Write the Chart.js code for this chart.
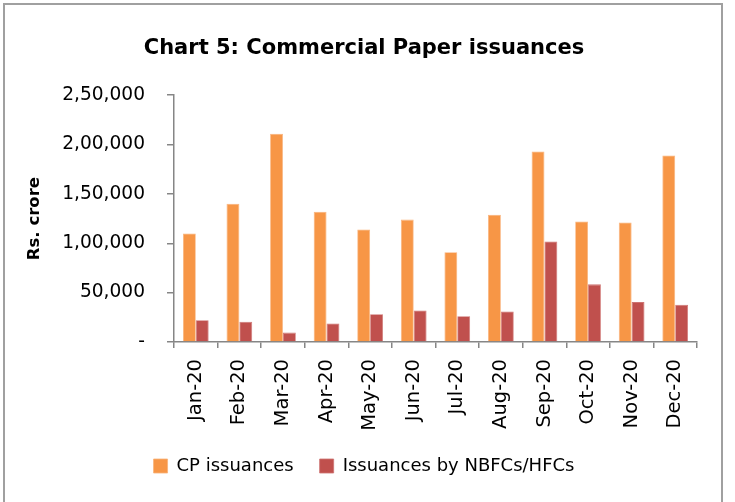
<!DOCTYPE html>
<html>
<head>
<meta charset="utf-8">
<script src="https://cdn.jsdelivr.net/npm/chart.js@4"></script>
<style>
  html, body { margin: 0; padding: 0; background: #fff; }
  #wrap { position: relative; width: 735px; height: 502px; overflow: hidden; }
  #frame { position: absolute; left: 3px; top: 3px; width: 720px; height: 520px; border: 2px solid #a0a0a0; box-sizing: border-box; pointer-events: none; }
  canvas { position: absolute; left: 0; top: 0; }
</style>
</head>
<body>
<div id="wrap">
  <canvas id="c" width="735" height="502"></canvas>
  <div id="frame"></div>
</div>
<script>
const categories = ['Jan-20','Feb-20','Mar-20','Apr-20','May-20','Jun-20','Jul-20','Aug-20','Sep-20','Oct-20','Nov-20','Dec-20'];
const cpIssuances = [110000, 140000, 211000, 132000, 114000, 124000, 91000, 129000, 193000, 122000, 121000, 189000];
const nbfcIssuances = [22000, 20500, 9500, 18700, 28200, 31900, 26100, 30900, 101900, 58400, 40400, 37700];
const yTickValues = [0, 50000, 100000, 150000, 200000, 250000];
const yTickLabels = ['-', '50,000', '1,00,000', '1,50,000', '2,00,000', '2,50,000'];

const FONT = 'DejaVu Sans';
const axisColor = '#868686';

new Chart(document.getElementById('c'), {
  type: 'bar',
  data: {
    labels: categories,
    datasets: [
      { label: 'CP issuances', data: cpIssuances, backgroundColor: '#F79646', borderColor: '#F9B27A', borderWidth: 0.8,
        categoryPercentage: 0.59, barPercentage: 1 },
      { label: 'Issuances by NBFCs/HFCs', data: nbfcIssuances, backgroundColor: '#C0504D', borderColor: '#CE7472', borderWidth: 0.8,
        categoryPercentage: 0.59, barPercentage: 1 }
    ]
  },
  options: {
    responsive: false,
    animation: false,
    layout: { padding: { left: 31, right: 38, top: 0, bottom: 17 } },
    plugins: {
      title: {
        display: true,
        text: 'Chart 5: Commercial Paper issuances',
        color: '#000',
        font: { family: FONT, size: 21, weight: 'bold', lineHeight: 1.2 },
        padding: { top: 36, bottom: 34 }
      },
      legend: {
        position: 'bottom',
        labels: {
          color: '#000',
          font: { family: FONT, size: 18 },
          boxWidth: 14, boxHeight: 14,
          padding: 26
        }
      },
      tooltip: { enabled: false }
    },
    scales: {
      x: {
        grid: { display: true, drawOnChartArea: false, drawTicks: true, tickLength: 6, color: axisColor, lineWidth: 1.5, offset: true },
        border: { display: true, color: axisColor, width: 1.5 },
        ticks: { color: '#000', font: { family: FONT, size: 19.5 }, minRotation: 90, maxRotation: 90, padding: 11, autoSkip: false },
        afterFit: (s) => { s.height = 89; }
      },
      y: {
        min: 0, max: 250000,
        afterBuildTicks: (s) => { s.ticks = yTickValues.map(v => ({ value: v })); },
        grid: { display: true, drawOnChartArea: false, drawTicks: true, tickLength: 7, color: axisColor, lineWidth: 1.5 },
        border: { display: true, color: axisColor, width: 1.5 },
        ticks: {
          color: '#000', font: { family: FONT, size: 18.6 }, padding: 22,
          callback: (v) => { const i = yTickValues.indexOf(v); return i >= 0 ? yTickLabels[i] : ''; }
        },
        title: {
          display: true, text: 'Rs. crore', color: '#000',
          font: { family: FONT, size: 16.5, weight: 'bold', lineHeight: 1.2 },
          padding: { top: -6, bottom: 0 }
        },
        afterFit: (s) => { s.width = 143; }
      }
    }
  }
});
</script>
</body>
</html>
